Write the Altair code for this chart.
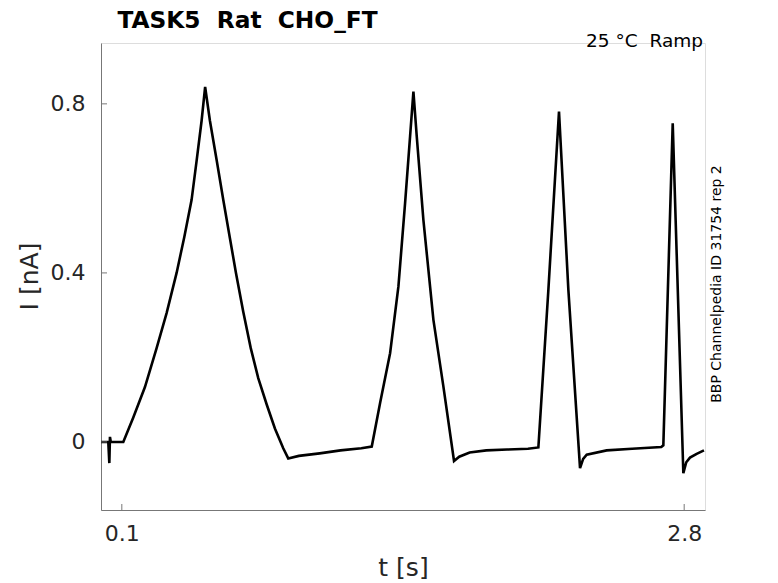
import altair as alt
import pandas as pd

# Trace (time in s, current in nA)
t_vals = [0.0, 0.035, 0.040, 0.043, 0.047, 0.107,
          0.155, 0.211, 0.267, 0.315, 0.363, 0.400, 0.435, 0.459, 0.483, 0.500,
          0.523, 0.556, 0.587, 0.619, 0.648, 0.683, 0.719, 0.755, 0.796, 0.835, 0.875, 0.899,
          0.95, 1.05, 1.15, 1.25, 1.300,
          1.340, 1.388, 1.428, 1.460, 1.484, 1.500,
          1.516, 1.548, 1.596, 1.644, 1.695,
          1.72, 1.77, 1.85, 1.95, 2.05, 2.100,
          2.148, 2.199,
          2.244, 2.300,
          2.315, 2.332, 2.428, 2.55, 2.690,
          2.700, 2.745, 2.796, 2.810, 2.828, 2.86, 2.895]
i_vals = [0.0, 0.0, -0.05, 0.012, 0.0, 0.0,
          0.058, 0.130, 0.222, 0.305, 0.400, 0.485, 0.573, 0.665, 0.760, 0.840,
          0.760, 0.665, 0.573, 0.482, 0.400, 0.308, 0.222, 0.151, 0.088, 0.032, -0.015, -0.039,
          -0.033, -0.027, -0.020, -0.015, -0.011,
          0.092, 0.210, 0.368, 0.565, 0.723, 0.829,
          0.723, 0.525, 0.289, 0.131, -0.045,
          -0.035, -0.025, -0.020, -0.018, -0.016, -0.013,
          0.360, 0.782,
          0.360, -0.062,
          -0.040, -0.030, -0.020, -0.016, -0.012,
          -0.008, 0.754, -0.074, -0.048, -0.037, -0.028, -0.020]

x_ticks = [0.1, 2.8]
y_ticks = [0.0, 0.4, 0.8]

NB = "\u00a0"
title_text = "TASK5" + NB * 2 + "Rat" + NB * 2 + "CHO_FT"
cond_text = "25" + NB + "°C" + NB * 2 + "Ramp"
side_text = "BBP Channelpedia ID 31754 rep 2"

W, H = 604, 467
FONT = "DejaVu Sans"
AXIS_COLOR = "#777777"
LABEL_COLOR = "#262626"

df = pd.DataFrame({"t": t_vals, "I": i_vals})
xt = pd.DataFrame({"t": x_ticks})
yt = pd.DataFrame({"I": y_ticks})

xscale = alt.Scale(domain=[0, 2.9], nice=False, zero=False)
yscale = alt.Scale(domain=[-0.161, 0.944], nice=False, zero=False)

label_expr = "datum.value == 0 ? '0' : format(datum.value, '.1f')"

line = alt.Chart(df).mark_line(color="black", strokeWidth=2.6, clip=True,
                               strokeJoin="miter").encode(
    x=alt.X("t:Q", scale=xscale,
            axis=alt.Axis(values=x_ticks, title="t [s]", grid=False, tickSize=0,
                          labelFontSize=22, labelPadding=13, labelColor=LABEL_COLOR,
                          labelFont=FONT, format=".1f",
                          domainColor=AXIS_COLOR, domainWidth=1,
                          titleFont=FONT, titleFontSize=25, titleFontWeight="normal",
                          titleColor=LABEL_COLOR, titleX=302, titleY=57,
                          titleBaseline="middle", titleAlign="center")),
    y=alt.Y("I:Q", scale=yscale,
            axis=alt.Axis(values=y_ticks, title="I [nA]", grid=False, tickSize=0,
                          labelFontSize=22, labelPadding=16, labelColor=LABEL_COLOR,
                          labelFont=FONT, labelExpr=label_expr,
                          domainColor=AXIS_COLOR, domainWidth=1,
                          titleFont=FONT, titleFontSize=25, titleFontWeight="normal",
                          titleColor=LABEL_COLOR, titleX=-72, titleY=233,
                          titleAngle=270, titleBaseline="middle", titleAlign="center")),
)

xticks = alt.Chart(xt).mark_rule(color=AXIS_COLOR, strokeWidth=1).encode(
    x=alt.X("t:Q", scale=xscale),
    y=alt.value(H),
    y2=alt.value(H - 6),
)
yticks = alt.Chart(yt).mark_rule(color=AXIS_COLOR, strokeWidth=1).encode(
    y=alt.Y("I:Q", scale=yscale),
    x=alt.value(0),
    x2=alt.value(6),
)

title = alt.Chart(pd.DataFrame({"s": [title_text]})).mark_text(
    font=FONT, fontSize=23.3, fontWeight="bold", color="black",
    align="center", baseline="alphabetic").encode(
    text="s:N", x=alt.value(146.5), y=alt.value(-15))

cond = alt.Chart(pd.DataFrame({"s": [cond_text]})).mark_text(
    font=FONT, fontSize=18.5, color="black",
    align="right", baseline="middle").encode(
    text="s:N", x=alt.value(602), y=alt.value(-2))

side = alt.Chart(pd.DataFrame({"s": [side_text]})).mark_text(
    font=FONT, fontSize=14, color="black", angle=270,
    align="center", baseline="middle").encode(
    text="s:N", x=alt.value(615.5), y=alt.value(241))

chart = alt.layer(line, xticks, yticks, title, cond, side).properties(
    width=W, height=H,
    autosize=alt.AutoSizeParams(type="none"),
    padding={"left": 93, "top": 35, "right": 60, "bottom": 70},
).configure_view(stroke=None).configure(background="white")

chart.save("out.html", embed_options={"renderer": "svg", "actions": False})
